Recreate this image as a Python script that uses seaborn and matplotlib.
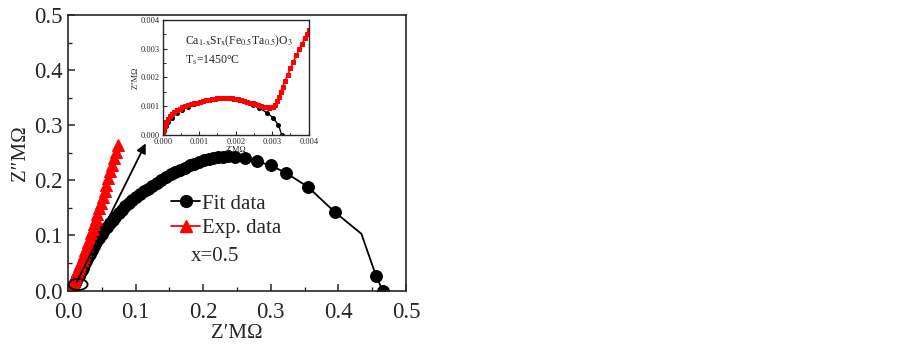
import numpy as np
import pandas as pd
import matplotlib
matplotlib.use('Agg')
import matplotlib.pyplot as plt
from matplotlib.patches import Ellipse
from matplotlib.lines import Line2D
import seaborn as sns

# main plot: fit data (Z', Z'' in MOhm)
fit_x = [0.006, 0.008, 0.010, 0.012, 0.014, 0.016, 0.018, 0.020, 0.022, 0.024,
         0.027, 0.030, 0.033, 0.036, 0.039, 0.042, 0.046, 0.050, 0.054, 0.058,
         0.062, 0.066, 0.070, 0.075, 0.080, 0.085, 0.090, 0.095, 0.100, 0.106,
         0.112, 0.118, 0.124, 0.131, 0.138, 0.145, 0.152, 0.159, 0.166, 0.173,
         0.180, 0.187, 0.194, 0.201, 0.208, 0.215, 0.222, 0.229, 0.236, 0.2475,
         0.262, 0.279, 0.300, 0.323, 0.355, 0.395, 0.434, 0.456, 0.4655]
fit_y = [0.004, 0.009, 0.013, 0.018, 0.023, 0.027, 0.032, 0.037, 0.041, 0.046,
         0.053, 0.060, 0.067, 0.074, 0.081, 0.088, 0.096, 0.103, 0.109, 0.115,
         0.122, 0.128, 0.134, 0.141, 0.147, 0.153, 0.159, 0.164, 0.169, 0.175,
         0.180, 0.185, 0.190, 0.196, 0.201, 0.206, 0.211, 0.215, 0.219, 0.223,
         0.227, 0.230, 0.233, 0.236, 0.238, 0.240, 0.242, 0.243, 0.2435, 0.2425,
         0.240, 0.2345, 0.227, 0.213, 0.188, 0.142, 0.103, 0.0255, 0.0]
# experimental data
exp_x = [0.0052, 0.0060, 0.0068, 0.0077, 0.0087, 0.0099, 0.0112, 0.0125, 0.0138,
         0.0153, 0.0168, 0.0183, 0.0201, 0.0219, 0.0237, 0.0257, 0.0277, 0.0297,
         0.0319, 0.0341, 0.0363, 0.0387, 0.0411, 0.0435, 0.0461, 0.0487, 0.0514,
         0.0541, 0.0568, 0.0596, 0.0624, 0.0652, 0.0680, 0.0708, 0.0735]
exp_y = [0.006, 0.009, 0.012, 0.015, 0.018, 0.022, 0.026, 0.030, 0.034,
         0.039, 0.044, 0.049, 0.055, 0.061, 0.067, 0.074, 0.081, 0.088,
         0.096, 0.104, 0.112, 0.121, 0.130, 0.139, 0.149, 0.159, 0.170,
         0.181, 0.192, 0.204, 0.216, 0.228, 0.240, 0.252, 0.264]

# inset (high-frequency zoom), values in MOhm
in_fit_x = [0.0, 0.00003, 0.00008, 0.00015, 0.00025, 0.00038, 0.00052, 0.00068,
            0.00085, 0.00102, 0.00120, 0.00138, 0.00156, 0.00174, 0.00192, 0.00210,
            0.00228, 0.00246, 0.00264, 0.00285, 0.00302, 0.00317, 0.00326]
in_fit_y = [0.0, 0.00015, 0.00030, 0.00045, 0.00060, 0.00075, 0.00088, 0.00099,
            0.00108, 0.00116, 0.00122, 0.00126, 0.00128, 0.00128, 0.00126, 0.00122,
            0.00115, 0.00106, 0.00094, 0.00078, 0.00060, 0.00035, 0.0]
in_exp_x = [0.0, 0.00002, 0.00004, 0.00007, 0.00010, 0.00014, 0.00019, 0.00025,
            0.00031, 0.00038, 0.00046, 0.00054, 0.00062, 0.00070, 0.00078, 0.00086,
            0.00094, 0.00102, 0.00110, 0.00118, 0.00126, 0.00134, 0.00142, 0.00150,
            0.00158, 0.00166, 0.00174, 0.00182, 0.00190, 0.00198, 0.00206, 0.00214,
            0.00222, 0.00230, 0.00238, 0.00246, 0.00254, 0.00262, 0.00270, 0.00278,
            0.00285, 0.00292, 0.00298, 0.00303, 0.00308, 0.00313, 0.00318, 0.00323,
            0.00329, 0.00335, 0.00342, 0.00350, 0.00358, 0.00366, 0.00374, 0.00382,
            0.00390, 0.00396, 0.00400]
in_exp_y = [0.0, 0.00010, 0.00020, 0.00032, 0.00045, 0.00055, 0.00065, 0.00074,
            0.00081, 0.00087, 0.00092, 0.00097, 0.00101, 0.00104, 0.00107, 0.00110,
            0.00113, 0.00116, 0.00118, 0.00120, 0.00122, 0.00124, 0.00126, 0.00128,
            0.00129, 0.00130, 0.00130, 0.00129, 0.00128, 0.00126, 0.00124, 0.00122,
            0.00119, 0.00116, 0.00113, 0.00110, 0.00107, 0.00104, 0.00101, 0.00098,
            0.00096, 0.00095, 0.00096, 0.00099, 0.00106, 0.00117, 0.00132, 0.00149,
            0.00168, 0.00188, 0.00208, 0.00232, 0.00255, 0.00277, 0.00298, 0.00318,
            0.00338, 0.00352, 0.00365]

main_ticks = [0.0, 0.1, 0.2, 0.3, 0.4, 0.5]
inset_ticks = [0.0, 0.001, 0.002, 0.003, 0.004]

sns.set_style('ticks')
plt.rcParams['font.family'] = ['Liberation Serif', 'DejaVu Serif']
plt.rcParams['mathtext.fontset'] = 'stix'
plt.rcParams['xtick.direction'] = 'in'
plt.rcParams['ytick.direction'] = 'in'
plt.rcParams['axes.linewidth'] = 1.2

fig = plt.figure(figsize=(9.03, 3.48), dpi=100)
ax = fig.add_axes([0.0753, 0.1652, 0.3743, 0.7917])

fit_df = pd.DataFrame({'x': fit_x, 'y': fit_y})
exp_df = pd.DataFrame({'x': exp_x, 'y': exp_y})
kink = fit_x.index(0.434)
marks = [i for i in range(len(fit_x)) if i != kink]
sns.lineplot(data=fit_df, x='x', y='y', sort=False, ax=ax, color='black', lw=1.3,
             marker='o', markersize=8.5, markeredgecolor='black', markevery=marks)
sns.lineplot(data=exp_df, x='x', y='y', sort=False, ax=ax, color='red', lw=1.3,
             marker='^', markersize=8.5, markeredgecolor='red')

ax.set_xlim(0, 0.5)
ax.set_ylim(0, 0.5)
ax.set_xticks(main_ticks)
ax.set_yticks(main_ticks)
ax.set_xticklabels([f'{t:.1f}' for t in main_ticks])
ax.set_yticklabels([f'{t:.1f}' for t in main_ticks])
ax.set_xticks([0.05, 0.15, 0.25, 0.35, 0.45], minor=True)
ax.set_yticks([0.05, 0.15, 0.25, 0.35, 0.45], minor=True)
ax.tick_params(which='major', length=5, width=1.1, labelsize=16.5)
ax.tick_params(axis='x', which='major', pad=8)
ax.tick_params(axis='y', which='major', pad=4)
ax.tick_params(which='minor', length=3, width=1.0)
ax.set_xlabel('Z\u2032M\u03a9', fontsize=15, labelpad=1)
ax.set_ylabel('Z\u2033M\u03a9', fontsize=15, labelpad=3)
for s in ax.spines.values():
    s.set_visible(True)
    s.set_linewidth(1.2)

handles = [Line2D([], [], color='black', lw=1.3, marker='o', markersize=8.5),
           Line2D([], [], color='red', lw=1.3, marker='^', markersize=8.5)]
ax.legend(handles, ['Fit data', 'Exp. data'], loc='center left',
          bbox_to_anchor=(0.305, 0.27), frameon=False, fontsize=15,
          handlelength=1.4, handletextpad=0.1, borderpad=0, borderaxespad=0,
          labelspacing=0.25)
ax.text(0.1815, 0.0615, 'x=0.5', fontsize=15, ha='left', va='center')

ax.add_patch(Ellipse((0.015, 0.011), 0.028, 0.02, fill=False, lw=1.3, ec='black',
                     zorder=5))
ax.annotate('', xy=(0.115, 0.267), xytext=(0.0128, 0.015),
            arrowprops=dict(arrowstyle='-|>', color='black', lw=1.3,
                            mutation_scale=14, shrinkA=0, shrinkB=0), zorder=6)

# inset
axi = fig.add_axes([0.1802, 0.6121, 0.1617, 0.3304])
in_fit_df = pd.DataFrame({'x': in_fit_x, 'y': in_fit_y})
in_exp_df = pd.DataFrame({'x': in_exp_x, 'y': in_exp_y})
sns.lineplot(data=in_fit_df, x='x', y='y', sort=False, ax=axi, color='black', lw=1.0,
             marker='o', markersize=2.8, markeredgecolor='black')
sns.lineplot(data=in_exp_df, x='x', y='y', sort=False, ax=axi, color='red', lw=1.2,
             marker='s', markersize=3.5, markeredgecolor='red')
axi.set_xlim(0, 0.004)
axi.set_ylim(0, 0.004)
axi.set_xticks(inset_ticks)
axi.set_yticks(inset_ticks)
axi.set_xticklabels([f'{t:.3f}' for t in inset_ticks])
axi.set_yticklabels([f'{t:.3f}' for t in inset_ticks])
axi.set_xticks([0.0005, 0.0015, 0.0025, 0.0035], minor=True)
axi.set_yticks([0.0005, 0.0015, 0.0025, 0.0035], minor=True)
axi.tick_params(which='major', length=3, width=0.8, labelsize=6)
axi.tick_params(axis='x', which='major', pad=2)
axi.tick_params(axis='y', which='major', pad=2)
axi.tick_params(which='minor', length=1.8, width=0.7)
axi.set_xlabel('Z\u2032M\u03a9', fontsize=6, labelpad=0)
axi.set_ylabel('Z\u2033M\u03a9', fontsize=6, labelpad=1)
for s in axi.spines.values():
    s.set_visible(True)
    s.set_linewidth(1.0)
axi.text(0.00061, 0.00325,
         r'Ca$_{\mathrm{1\text{-}x}}$Sr$_{\mathrm{x}}$(Fe$_{\mathrm{0.5}}$Ta$_{\mathrm{0.5}}$)O$_{\mathrm{3}}$',
         fontsize=8.5, ha='left', va='center')
axi.text(0.00061, 0.0026, r'T$_{\mathrm{s}}$=1450°C', fontsize=8.5, ha='left', va='center')

fig.savefig('out.png', dpi=100, facecolor='white')
